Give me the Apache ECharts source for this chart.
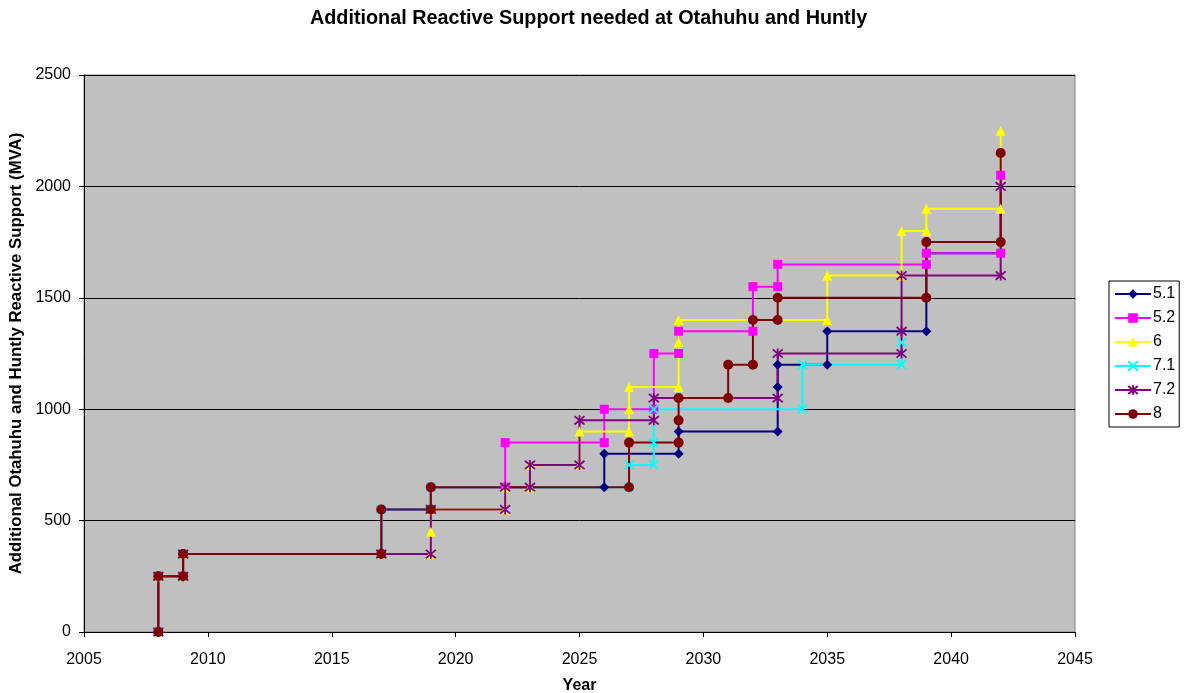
<!DOCTYPE html>
<html>
<head>
<meta charset="utf-8">
<script src="https://cdn.jsdelivr.net/npm/echarts@6/dist/echarts.min.js"></script>
<style>
html,body{margin:0;padding:0;background:#fff;}
#c{width:1184px;height:693px;}
</style>
</head>
<body>
<div id="c"></div>
<script>
const titleText = 'Additional Reactive Support needed at Otahuhu and Huntly';
const xAxisName = 'Year';
const yAxisName = 'Additional Otahuhu and Huntly Reactive Support (MVA)';
const seriesNames = ['5.1', '5.2', '6', '7.1', '7.2', '8'];

const s51 = [[2008,0],[2008,250],[2009,250],[2009,350],[2017,350],[2017,550],[2019,550],[2019,650],[2026,650],[2026,800],[2029,800],[2029,900],[2033,900],[2033,1100],[2033,1200],[2035,1200],[2035,1350],[2039,1350],[2039,1700],[2042,1700]];
const s52 = [[2008,0],[2008,250],[2009,250],[2009,350],[2017,350],[2017,550],[2019,550],[2019,650],[2022,650],[2022,850],[2026,850],[2026,1000],[2028,1000],[2028,1250],[2029,1250],[2029,1350],[2032,1350],[2032,1550],[2033,1550],[2033,1650],[2039,1650],[2039,1700],[2042,1700],[2042,2050]];
const s6  = [[2008,0],[2008,250],[2009,250],[2009,350],[2017,350],[2019,350],[2019,450],[2019,550],[2022,550],[2022,650],[2023,650],[2023,750],[2025,750],[2025,900],[2027,900],[2027,1000],[2027,1100],[2029,1100],[2029,1300],[2029,1400],[2035,1400],[2035,1600],[2038,1600],[2038,1800],[2039,1800],[2039,1900],[2042,1900],[2042,2250]];
const s71 = [[2008,0],[2008,250],[2009,250],[2009,350],[2017,350],[2017,550],[2019,550],[2019,650],[2027,650],[2027,750],[2028,750],[2028,850],[2028,1000],[2034,1000],[2034,1200],[2038,1200],[2038,1300]];
const s72 = [[2008,0],[2008,250],[2009,250],[2009,350],[2017,350],[2019,350],[2019,550],[2022,550],[2022,650],[2023,650],[2023,750],[2025,750],[2025,950],[2028,950],[2028,1050],[2033,1050],[2033,1250],[2038,1250],[2038,1350],[2038,1600],[2042,1600],[2042,2000]];
const s8  = [[2008,0],[2008,250],[2009,250],[2009,350],[2017,350],[2017,550],[2019,550],[2019,650],[2027,650],[2027,850],[2029,850],[2029,950],[2029,1050],[2031,1050],[2031,1200],[2032,1200],[2032,1400],[2033,1400],[2033,1500],[2039,1500],[2039,1750],[2042,1750],[2042,2150]];

const seriesData = [s51, s52, s6, s71, s72, s8];
const colors = ['#000080', '#FF00FF', '#FFFF00', '#00FFFF', '#800080', '#800000'];
const symbols = [
  'diamond',
  'rect',
  'triangle',
  'path://M0,0L10,10M10,0L0,10',
  'path://M0,0L10,10M10,0L0,10M5,-1L5,11',
  'circle'
];
const sizes = [10, 9, 10, 9, 10, 10];
const strokeSymbols = [false, false, false, true, true, false];

const FONT = '"Liberation Sans", Arial, sans-serif';

const chart = echarts.init(document.getElementById('c'), null, {renderer: 'canvas'});

const series = seriesNames.map((n, i) => ({
  name: n,
  type: 'line',
  data: seriesData[i],
  color: colors[i],
  symbol: symbols[i],
  symbolSize: sizes[i],
  showSymbol: true,
  showAllSymbol: true,
  lineStyle: {color: colors[i], width: 2},
  itemStyle: strokeSymbols[i]
    ? {color: colors[i], borderColor: colors[i], borderWidth: 1.8}
    : {color: colors[i], borderWidth: 0},
  emphasis: {disabled: true},
  animation: false
}));

chart.setOption({
  animation: false,
  backgroundColor: '#ffffff',
  title: {
    text: titleText,
    left: 305,
    top: 4,
    textStyle: {fontFamily: FONT, fontSize: 19.8, fontWeight: 'bold', color: '#000'}
  },
  grid: {
    left: 84, right: 109, top: 75, bottom: 61,
    containLabel: false,
    outerBoundsMode: 'none',
    show: true,
    backgroundColor: '#C0C0C0',
    borderColor: '#808080',
    borderWidth: 1
  },
  legend: {
    orient: 'vertical',
    left: 1109,
    top: 281,
    padding: [5, 4, 5, 5],
    itemWidth: 36,
    itemHeight: 12,
    itemGap: 8,
    backgroundColor: '#ffffff',
    borderColor: '#000000',
    borderWidth: 1,
    borderRadius: 0,
    textStyle: {fontFamily: FONT, fontSize: 16, color: '#000', padding: [0, 0, 0, -3]},
    data: seriesNames
  },
  xAxis: {
    type: 'value',
    min: 2005, max: 2045, interval: 5,
    name: xAxisName,
    nameLocation: 'middle',
    nameGap: 46,
    nameTextStyle: {fontFamily: FONT, fontSize: 16, fontWeight: 'bold', color: '#000'},
    axisLine: {show: true, onZero: false, lineStyle: {color: '#000', width: 1}},
    axisTick: {show: true, inside: false, length: 5, lineStyle: {color: '#000'}},
    axisLabel: {fontFamily: FONT, fontSize: 16, color: '#000', margin: 20, formatter: v => String(v)},
    splitLine: {show: false}
  },
  yAxis: {
    type: 'value',
    min: 0, max: 2500, interval: 500,
    name: yAxisName,
    nameLocation: 'middle',
    nameGap: 47,
    nameTextStyle: {fontFamily: FONT, fontSize: 16.8, fontWeight: 'bold', color: '#000'},
    axisLine: {show: true, lineStyle: {color: '#000', width: 1}},
    axisTick: {show: true, inside: false, length: 5, lineStyle: {color: '#000'}},
    axisLabel: {fontFamily: FONT, fontSize: 16, color: '#000', margin: 13, formatter: v => String(v)},
    splitLine: {show: true, lineStyle: {color: '#000', width: 1}}
  },
  series: series
});
</script>
</body>
</html>
